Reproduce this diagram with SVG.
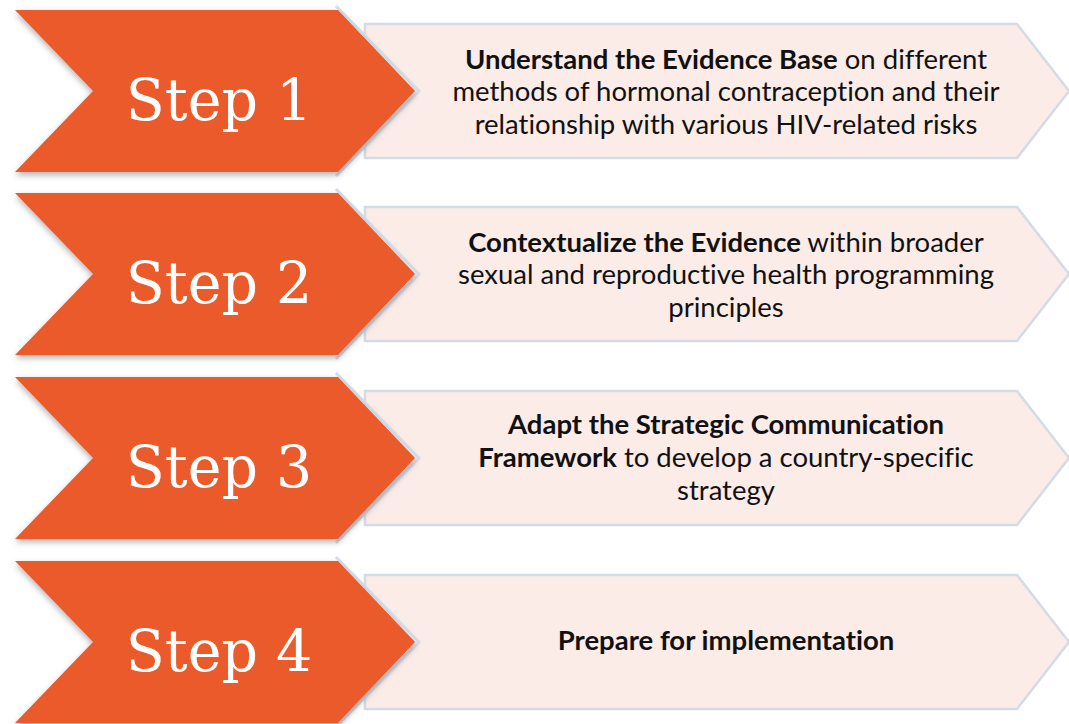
<svg xmlns="http://www.w3.org/2000/svg" width="1069" height="724" viewBox="0 0 1069 724">
<defs>
<filter id="sh" x="-10%" y="-10%" width="120%" height="130%">
<feDropShadow dx="0" dy="3" stdDeviation="3" flood-color="#000" flood-opacity="0.3"/>
</filter>
<polygon id="chev" points="15,0 338,0 415,81 338,162 15,162 93,81"/>
<polygon id="box" points="365,14 1017,14 1069,81 1017,148 365,148"/>
<polyline id="tipline" points="336,-4 419,81 336,166"/>
</defs>
<style>
.box{fill:#fbece8;stroke:#d3dbe5;stroke-width:2.5}
.chev{fill:#eb5a2a}
.out1{fill:none;stroke:#d6e0eb;stroke-width:3}
.step{font-family:"DejaVu Serif",serif;font-size:57px;fill:#ffffff;text-anchor:middle}
.t{font-family:Lato,"Noto Sans",sans-serif;font-size:27.5px;fill:#111;text-anchor:middle;font-variant-ligatures:none}
.b{font-weight:bold}
</style>
<rect width="1069" height="724" fill="#ffffff"/>
<g id="connectors"></g>
<g id="step1" transform="translate(0,10)">
<use href="#box" class="box"/>
<use href="#tipline" class="out1"/>
<use href="#chev" class="chev" filter="url(#sh)"/>
<text class="step" x="219" y="110">Step 1</text>
<text class="t" x="726" y="59"><tspan class="b">Understand the Evidence Base</tspan> on different</text>
<text class="t" x="726" y="91">methods of hormonal contraception and their</text>
<text class="t" x="726" y="124">relationship with various HIV-related risks</text>
</g>
<g id="step2" transform="translate(0,193)">
<use href="#box" class="box"/>
<use href="#tipline" class="out1"/>
<use href="#chev" class="chev" filter="url(#sh)"/>
<text class="step" x="219" y="110">Step 2</text>
<text class="t" x="726" y="59"><tspan class="b">Contextualize the Evidence</tspan> within broader</text>
<text class="t" x="726" y="91">sexual and reproductive health programming</text>
<text class="t" x="726" y="124">principles</text>
</g>
<g id="step3" transform="translate(0,377)">
<use href="#box" class="box"/>
<use href="#tipline" class="out1"/>
<use href="#chev" class="chev" filter="url(#sh)"/>
<text class="step" x="219" y="110">Step 3</text>
<text class="t b" x="726" y="57">Adapt the Strategic Communication</text>
<text class="t" x="726" y="90"><tspan class="b">Framework</tspan> to develop a country-specific</text>
<text class="t" x="726" y="123">strategy</text>
</g>
<g id="step4" transform="translate(0,561)">
<use href="#box" class="box"/>
<use href="#tipline" class="out1"/>
<use href="#chev" class="chev" filter="url(#sh)"/>
<text class="step" x="219" y="110">Step 4</text>
<text class="t b" x="726" y="89">Prepare for implementation</text>
</g>
</svg>
